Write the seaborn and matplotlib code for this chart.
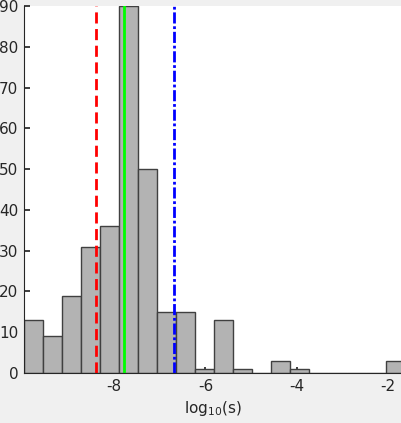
import numpy as np
import pandas as pd
import matplotlib
matplotlib.use("Agg")
import matplotlib.pyplot as plt
import seaborn as sns

# ── Data ─────────────────────────────────────────────────────────────────────
BIN_EDGES = [-9.98, -9.56, -9.15, -8.73, -8.31, -7.89, -7.48, -7.06, -6.64, -6.23,
             -5.81, -5.39, -4.97, -4.56, -4.14, -3.72, -3.31, -2.89, -2.47, -2.05, -1.64]
COUNTS = [13, 9, 19, 31, 36, 90, 50, 15, 15, 1,
          13, 1, 0, 3, 1, 0, 0, 0, 0, 3]
RED_LINE = -8.39     # dashed red
GREEN_LINE = -7.79   # solid green
BLUE_LINE = -6.70    # dash-dot blue
X_TICKS = [-8, -6, -4, -2]
Y_TICKS = [0, 10, 20, 30, 40, 50, 60, 70, 80, 90]

BG = '#f0f0f0'

sns.set_theme(style='white')
plt.rcParams['font.family'] = ['DejaVu Sans']

fig = plt.figure(figsize=(4.01, 4.23), dpi=100, facecolor=BG)
ax = fig.add_axes([24 / 401, 50 / 423, 377 / 401, 367 / 423])
ax.set_facecolor('white')

# histogram from pre-binned counts
edges = np.array(BIN_EDGES)
df = pd.DataFrame({'center': (edges[:-1] + edges[1:]) / 2, 'count': COUNTS})
sns.histplot(data=df, x='center', weights='count', bins=list(BIN_EDGES), ax=ax,
             color='#b3b3b3', edgecolor='#404040', linewidth=1.0, alpha=1.0)

ax.axvline(RED_LINE, color='#ff0000', linestyle=(0, (4, 2)), lw=2)
ax.axvline(GREEN_LINE, color='#00ff00', linestyle='-', lw=2)
ax.axvline(BLUE_LINE, color='#0000ff', linestyle=(0, (4, 1, 1, 1)), lw=2)

ax.set_xlim(-9.98, -1.71)
ax.set_ylim(0, 90)
ax.set_xticks(X_TICKS)
ax.set_xticklabels([str(t) for t in X_TICKS])
ax.set_yticks(Y_TICKS)
ax.set_xlabel('log$_{10}$(s)', fontsize=11, color='#262626', labelpad=4)
ax.set_ylabel('')
ax.tick_params(direction='in', length=4, labelsize=11, colors='#262626',
               bottom=True, left=True, pad=4)

for side in ['top', 'right']:
    ax.spines[side].set_visible(False)
for side in ['left', 'bottom']:
    ax.spines[side].set_color('#262626')
    ax.spines[side].set_linewidth(0.8)

fig.savefig('out.png', dpi=100, facecolor=BG)
